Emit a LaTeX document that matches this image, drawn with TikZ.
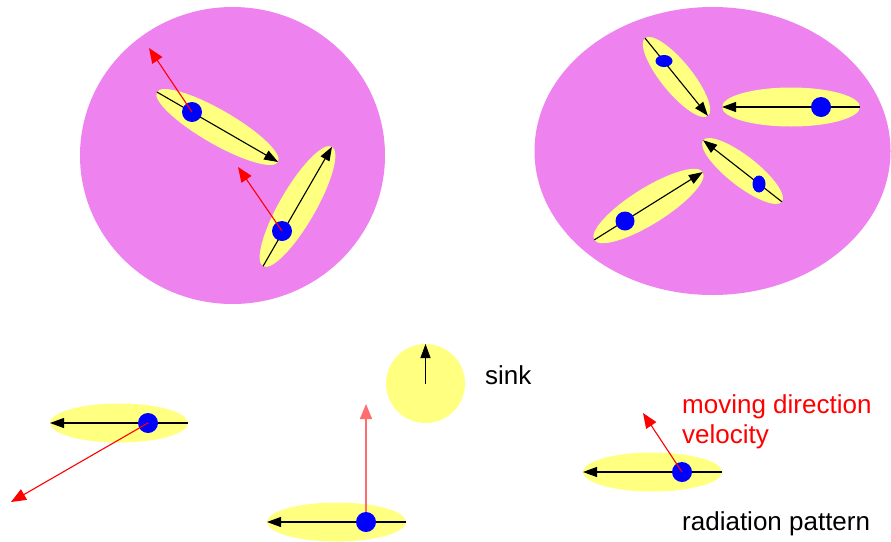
\documentclass[tikz,border=0pt]{standalone}
\usepackage{fontspec}
\setmainfont{Liberation Sans}
\usetikzlibrary{shapes.geometric,arrows.meta}
\definecolor{pinkbg}{RGB}{238,130,238}
\definecolor{yel}{RGB}{255,255,128}
\definecolor{dotblue}{RGB}{0,0,255}
\definecolor{lightred}{RGB}{255,110,110}
\tikzset{
 bg/.style={ellipse, fill=pinkbg, inner sep=0pt, outer sep=0pt},
 lobe/.style={ellipse, fill=yel, inner sep=0pt, outer sep=0pt},
 dot/.style={circle, fill=dotblue, inner sep=0pt, outer sep=0pt, minimum size=20pt},
 edot/.style={ellipse, fill=dotblue, inner sep=0pt, outer sep=0pt},
 pat/.style={draw=black, line width=1.1pt, -{Triangle[length=14pt,width=10pt]}},
 vel/.style={draw=red, line width=1.1pt, -{Triangle[length=15pt,width=12pt]}},
 lbl/.style={anchor=base west, inner sep=0pt, font=\fontsize{26}{30}\selectfont},
}
\begin{document}
\begin{tikzpicture}[x=1pt,y=-1pt]
\useasboundingbox (0,0) rectangle (891,541);
% background clusters
\node[bg, minimum width=305pt, minimum height=297pt] (c1) at (232.5,155.5) {};
\node[bg, minimum width=356pt, minimum height=288pt] (c2) at (712.5,151) {};
% cluster 1
\node[lobe, minimum width=140pt, minimum height=34pt, rotate=-30] (l1) at (217.5,127) {};
\node[lobe, minimum width=138pt, minimum height=36pt, rotate=60] (l2) at (297.5,206.5) {};
\draw[pat] (l1.west) -- (l1.east);
\draw[pat] (l2.west) -- (l2.east);
\node[dot] (d1) at (192,112) {};
\node[dot] (d2) at (282,231) {};
\coordinate (v1) at (149,48);
\coordinate (v2) at (238,167);
\draw[vel] (d1.center) -- (v1);
\draw[vel] (d2.center) -- (v2);
% cluster 2
\node[lobe, minimum width=100pt, minimum height=31pt, rotate=-51] (la) at (676.5,77) {};
\node[lobe, minimum width=138pt, minimum height=39pt] (lb) at (791,107) {};
\node[lobe, minimum width=100pt, minimum height=30pt, rotate=-38] (lc) at (742.5,171) {};
\node[lobe, minimum width=128pt, minimum height=36pt, rotate=32] (ld) at (648.5,206) {};
\draw[pat] (la.west) -- (la.east);
\draw[pat] (lb.east) -- (lb.west);
\draw[pat] (lc.east) -- (lc.west);
\draw[pat] (ld.west) -- (ld.east);
\node[edot, minimum width=17pt, minimum height=12pt] (da) at (664,61) {};
\node[dot] (db) at (821,107) {};
\node[edot, minimum width=13pt, minimum height=17pt] (dc) at (759,184) {};
\node[dot, minimum size=19pt] (dd) at (625,221) {};
% bottom: single nodes
\node[lobe, minimum width=138pt, minimum height=39pt] (le) at (119,423) {};
\draw[pat] (le.east) -- (le.west);
\node[dot] (de) at (148,423) {};
\coordinate (ve) at (11,502);
\draw[vel] (de.center) -- (ve);

\node[lobe, minimum width=139pt, minimum height=39pt] (lf) at (336.5,522) {};
\draw[pat] (lf.east) -- (lf.west);
\node[dot] (df) at (366,522) {};
\coordinate (vf) at (366,404);
\draw[vel, draw=lightred, line width=1.4pt] (df.north) -- (vf);

\node[lobe, circle, minimum size=79pt] (sink) at (425.5,383.5) {};
\draw[pat] (sink.center) -- (sink.north);

\node[lobe, minimum width=139pt, minimum height=39pt] (lg) at (652.5,472) {};
\draw[pat] (lg.east) -- (lg.west);
\node[dot] (dg) at (682,472) {};
\coordinate (vg) at (643,413);
\draw[vel] (dg.center) -- (vg);

% labels
\node[lbl] (sinklbl) at (485,384) {sink};
\node[lbl, text=red] (mv) at (682,413) {moving direction};
\node[lbl, text=red] (vl) at (682,443) {velocity};
\node[lbl] (rp) at (682,530) {radiation pattern};
\end{tikzpicture}
\end{document}
